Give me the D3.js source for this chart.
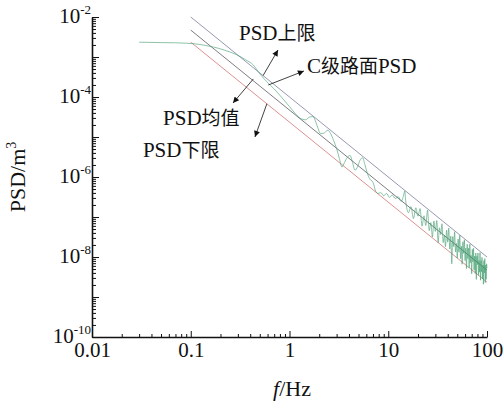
<!DOCTYPE html>
<html>
<head>
<meta charset="utf-8">
<script src="https://cdn.jsdelivr.net/npm/d3@7"></script>
<style>
  body { margin: 0; background: #fff; }
  text { font-family: "Liberation Serif", "Times New Roman", serif; fill: #111; }
  .cjk { font-family: "Noto Sans CJK SC", sans-serif; }
</style>
</head>
<body>
<div id="chart"></div>
<script>
var measFreq = [0.03,0.05,0.07,0.09,0.11,0.14,0.17,0.22,0.29,0.36,0.43,
  0.5,0.59,0.7,0.86,1.0,1.15,1.28,1.45,1.6,1.73,
  1.85,1.95,2.05,2.2,2.45,2.6,2.8,3.0,3.2,3.4,
  3.6,3.85,4.1,4.35,4.6,4.9,5.2,5.5,5.8,6.2,
  6.6,7.0,7.5,7.9,8.4,9.0,9.6,10.3,11.0,11.8,
  12.6,13.5,14.2,14.7,
  15,16,17,18,19,20,21,22,23,24,25,26,27,28,29,30,31,32,33,34,35,36,37,38,39,40,
  41,42,43,44,45,46,47,48,49,50,51,52,53,54,55,56,57,58,59,60,61,62,63,64,65,66,67,68,69,70,
  71,72,73,74,75,76,77,78,79,80,81,82,83,84,85,86,87,88,89,90,91,92,93,94,95,96,97,98,99,100];
var measLogPSD = [-2.63,-2.64,-2.645,-2.655,-2.67,-2.71,-2.75,-2.83,-2.94,-3.07,-3.20,
  -3.42,-3.62,-3.80,-4.05,-4.24,-4.42,-4.53,-4.57,-4.50,-4.49,
  -4.63,-4.79,-4.91,-4.91,-4.83,-4.91,-5.09,-5.29,-5.54,-5.75,
  -5.64,-5.51,-5.46,-5.64,-5.83,-5.74,-5.57,-5.52,-5.69,-5.94,
  -6.07,-6.13,-6.37,-6.41,-6.39,-6.47,-6.41,-6.51,-6.45,-6.54,
  -6.49,-6.61,-6.49,-6.35,
  -6.58,-6.89,-6.74,-7.04,-6.77,-6.98,-6.79,-7.23,-6.97,-7.21,-6.83,-7.34,-7.14,-7.50,-7.10,-7.36,
  -7.09,-7.64,-7.27,-7.44,-7.17,-7.64,-7.45,-7.74,-7.33,-7.63,
  -7.28,-7.80,-7.48,-8.17,-7.49,-7.74,-7.37,-7.87,-7.66,-8.03,-7.55,-7.88,-7.46,-8.04,-7.73,-8.18,
  -7.62,-7.91,-7.57,-8.09,-7.78,-8.29,-7.68,-8.04,-7.78,-8.27,-7.68,-8.14,-7.96,-8.42,
  -7.81,-8.12,-7.78,-8.32,-7.98,-8.41,-7.90,-8.56,-7.98,-8.19,-7.90,-8.46,-8.09,-8.38,-7.89,-8.58,
  -8.09,-8.37,-8.01,-8.54,-8.20,-8.68,-8.09,-8.40,-8.04,-8.64,-8.20,-8.56,-8.17,-8.28];

// C-class road limits, straight lines on log-log
var limitFreq = [0.1, 100];
var upperPSD = [1e-2, 1e-8];
var meanPSD  = [4.7e-3, 4.7e-9];
var lowerPSD = [2.35e-3, 2.35e-9];

// annotations (data coords); each label split in latin / cjk runs
var labelParts = [[["PSD", 0], ["上限", 1]], [["C", 0], ["级路面", 1], ["PSD", 0]],
                  [["PSD", 0], ["均值", 1]], [["PSD", 0], ["下限", 1]]];
var labelFreq = [0.308, 1.50, 0.0524, 0.0328];
var labelPSD  = [2.66e-3, 3.98e-4, 2.0e-5, 3.16e-6];
var arrowFrom = [[0.54, 3.43e-4], [0.61, 2.0e-4], [0.43, 2.82e-4], [0.59, 6.76e-5]];
var arrowTo   = [[0.765, 1.5e-3], [1.40, 4.47e-4], [0.268, 7.08e-5], [0.447, 1.0e-5]];

var yLabelExp = [-2, -4, -6, -8, -10];

var width = 504, height = 405;
var svg = d3.select("#chart").append("svg")
  .attr("width", width)
  .attr("height", height);

svg.append("defs").append("marker")
  .attr("id", "arr")
  .attr("viewBox", "0 0 10 10")
  .attr("refX", 10).attr("refY", 5)
  .attr("markerWidth", 9).attr("markerHeight", 6)
  .attr("markerUnits", "userSpaceOnUse")
  .attr("orient", "auto")
  .append("path")
  .attr("d", "M0,0L10,5L0,10z")
  .attr("fill", "#111");

var x = d3.scaleLog().domain([0.01, 100]).range([92, 487]);
var y = d3.scaleLog().domain([1e-10, 1e-2]).range([337, 17]);

function isDecade(v) { return Math.abs(Math.log10(v) - Math.round(Math.log10(v))) < 1e-6; }

var xAll = x.ticks();
var yAll = y.ticks();

// x axis: minor then major, ticks point inwards
svg.append("g")
  .attr("transform", "translate(0,337)")
  .call(d3.axisBottom(x).tickValues(xAll.filter(function(d){ return !isDecade(d); }))
    .tickSize(-3).tickFormat(""))
  .call(function(g){ g.select(".domain").remove(); });
var xAxis = svg.append("g")
  .attr("transform", "translate(0,337)")
  .call(d3.axisBottom(x).tickValues(xAll.filter(isDecade))
    .tickSizeInner(-6).tickSizeOuter(0).tickPadding(5)
    .tickFormat(function(d){ return d >= 1 ? d3.format("d")(d) : String(d); }));
xAxis.selectAll("text").attr("font-size", 21).attr("fill", "#111")
  .style("font-family", "'Liberation Serif', serif");

// y axis
svg.append("g")
  .attr("transform", "translate(92,0)")
  .call(d3.axisLeft(y).tickValues(yAll.filter(function(d){ return !isDecade(d); }))
    .tickSize(-4).tickFormat(""))
  .call(function(g){ g.select(".domain").remove(); });
svg.append("g")
  .attr("transform", "translate(92,0)")
  .call(d3.axisLeft(y).tickValues(yAll.filter(isDecade))
    .tickSizeInner(-7).tickSizeOuter(0).tickFormat(""));

svg.selectAll(".domain").attr("stroke", "#111").attr("stroke-width", 1.6);
svg.selectAll(".tick line").attr("stroke", "#111").attr("stroke-width", 1);

var yLab = svg.append("g").selectAll("text")
  .data(yLabelExp)
  .enter().append("text")
  .attr("x", 91)
  .attr("y", function(d){ return y(Math.pow(10, d)) + 6; })
  .attr("text-anchor", "end")
  .attr("font-size", 21);
yLab.append("tspan").text("10");
yLab.append("tspan")
  .attr("font-size", 13)
  .attr("dy", -9)
  .text(function(d){ return String(d); });

// limit lines
var line = d3.line()
  .x(function(d){ return x(d[0]); })
  .y(function(d){ return y(d[1]); });

function pairs(f, p) { return f.map(function(v, i){ return [v, p[i]]; }); }

svg.append("path").datum(pairs(limitFreq, upperPSD))
  .attr("d", line).attr("fill", "none")
  .attr("stroke", "#8b8ca6").attr("stroke-width", 0.9);
svg.append("path").datum(pairs(limitFreq, meanPSD))
  .attr("d", line).attr("fill", "none")
  .attr("stroke", "#6e6e74").attr("stroke-width", 0.9);
svg.append("path").datum(pairs(limitFreq, lowerPSD))
  .attr("d", line).attr("fill", "none")
  .attr("stroke", "#d88484").attr("stroke-width", 0.9);

// measured curve (smoothed between samples)
var smooth = d3.line()
  .curve(d3.curveMonotoneX)
  .x(function(d){ return x(d[0]); })
  .y(function(d){ return y(d[1]); });
svg.append("path")
  .datum(measFreq.map(function(f, i){ return [f, Math.pow(10, measLogPSD[i])]; }))
  .attr("d", smooth).attr("fill", "none")
  .attr("stroke", "#3c9c6c").attr("stroke-width", 0.7)
  .attr("stroke-opacity", 0.85);

// arrows + labels
svg.append("g").selectAll("line")
  .data(arrowFrom)
  .enter().append("line")
  .attr("x1", function(d){ return x(d[0]); })
  .attr("y1", function(d){ return y(d[1]); })
  .attr("x2", function(d, i){ return x(arrowTo[i][0]); })
  .attr("y2", function(d, i){ return y(arrowTo[i][1]); })
  .attr("stroke", "#111").attr("stroke-width", 0.8)
  .attr("marker-end", "url(#arr)");

var labs = svg.append("g").selectAll("text")
  .data(labelParts)
  .enter().append("text")
  .attr("x", function(d, i){ return x(labelFreq[i]); })
  .attr("y", function(d, i){ return y(labelPSD[i]); })
  .attr("font-size", 21);
labs.selectAll("tspan")
  .data(function(d){ return d; })
  .enter().append("tspan")
  .attr("class", function(d){ return d[1] ? "cjk" : null; })
  .attr("font-size", function(d){ return d[1] ? 19 : 21; })
  .text(function(d){ return d[0]; });

// axis titles
var xt = svg.append("text")
  .attr("x", 292).attr("y", 396)
  .attr("text-anchor", "middle")
  .attr("font-size", 22);
xt.append("tspan").attr("font-style", "italic").text("f");
xt.append("tspan").text("/Hz");

var yt = svg.append("text")
  .attr("transform", "translate(25,177) rotate(-90)")
  .attr("text-anchor", "middle")
  .attr("font-size", 22);
yt.append("tspan").text("PSD/m");
yt.append("tspan").attr("font-size", 14).attr("dy", -9).text("3");
</script>
</body>
</html>
